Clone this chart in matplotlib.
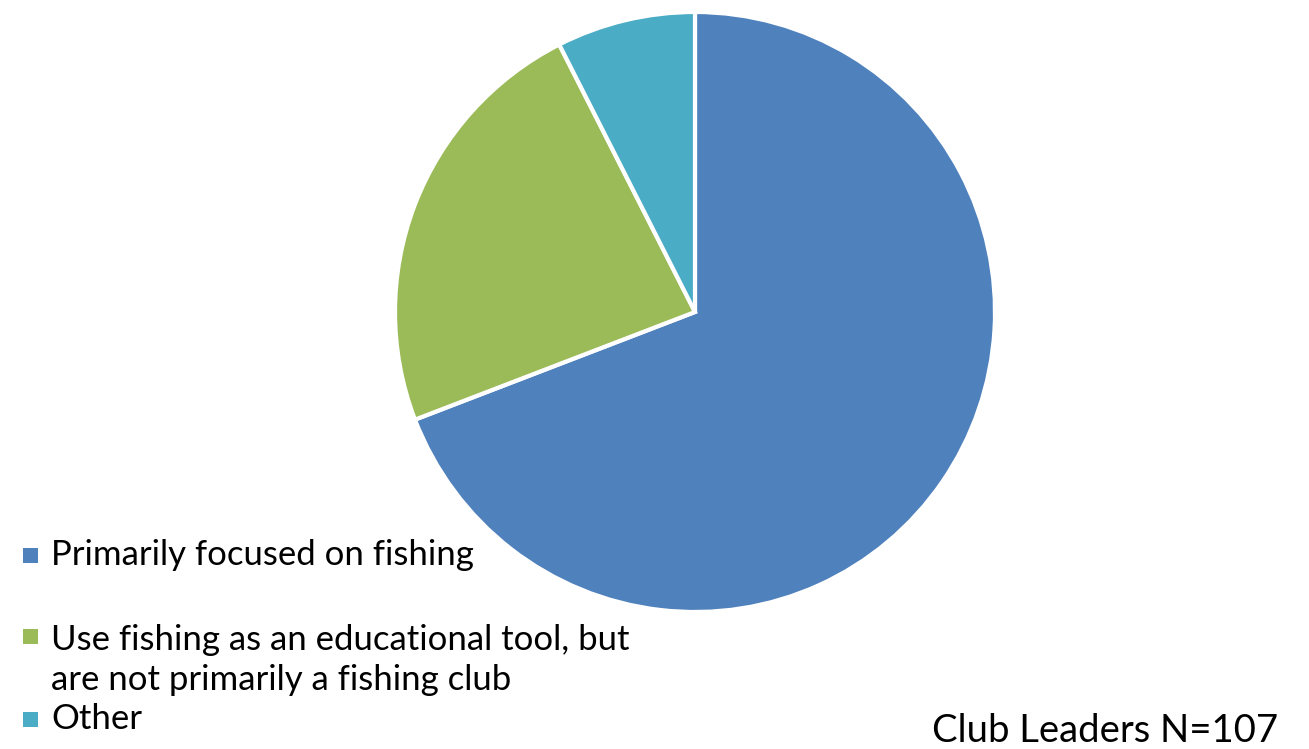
import matplotlib
matplotlib.use("Agg")
import matplotlib.pyplot as plt
from matplotlib.patches import Rectangle

# Survey responses from club leaders
categories = [
    "Primarily focused on fishing",
    "Use fishing as an educational tool, but\nare not primarily a fishing club",
    "Other",
]
counts = [74, 25, 8]
colors = ["#4F81BD", "#9BBB59", "#4BACC6"]
note = "Club Leaders N=107"

W, H = 1309, 749
fig = plt.figure(figsize=(W / 100, H / 100), dpi=100)
ax = fig.add_axes([0, 0, 1, 1])

ax.pie(
    counts,
    colors=colors,
    startangle=90,
    counterclock=False,
    center=(695, H - 312),
    radius=300,
    wedgeprops=dict(edgecolor="white", linewidth=3),
    frame=True,
)
ax.set_xlim(0, W)
ax.set_ylim(0, H)
ax.axis("off")

legend_font = dict(family=["Lato", "DejaVu Sans"], size=25, color="black")
note_font = dict(family=["Lato", "DejaVu Sans"], size=27.5, color="black")

# Legend entries: square swatch + label
entry_y = [555, 660, 719]  # label centre in pixels from top
swatch_y = [555, 636, 719]
for lab, col, ty, sy in zip(categories, colors, entry_y, swatch_y):
    ax.add_patch(Rectangle((23, H - sy - 7.5), 15, 15, facecolor=col, edgecolor="none"))
    ax.text(51, H - ty, lab, ha="left", va="center", linespacing=1.3, **legend_font)

ax.text(1278, H - 731, note, ha="right", va="center", **note_font)

fig.savefig("out.png", dpi=100)
